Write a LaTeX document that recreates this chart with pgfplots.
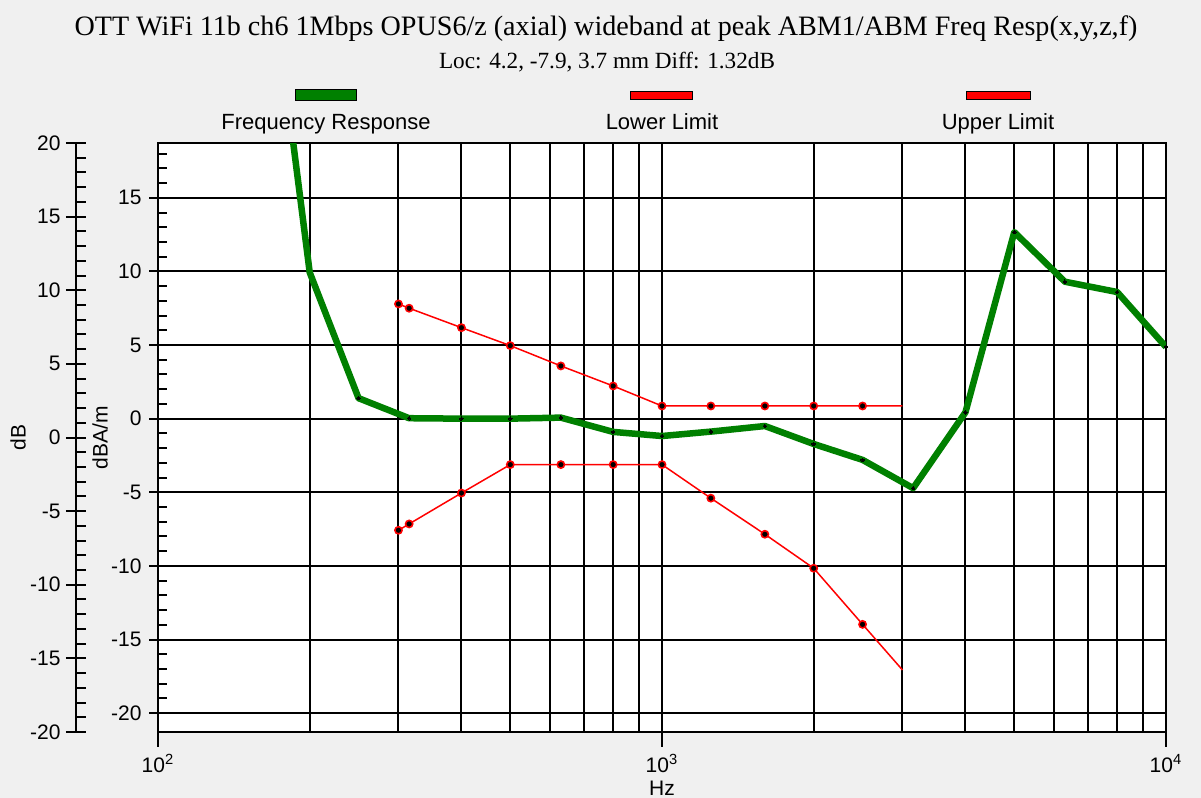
\documentclass[border=0pt]{standalone}
\usepackage{pgfplots}
\pgfplotsset{compat=1.18}
\usepackage{fontspec}
\setmainfont{Liberation Sans}
\newfontfamily\titlefont{Liberation Serif}
\definecolor{bg}{HTML}{F0F0F0}
\definecolor{fr}{RGB}{0,128,0}
\definecolor{lim}{RGB}{255,0,0}
\begin{document}
\begin{tikzpicture}
\useasboundingbox (-79pt,-33pt) rectangle (521.5pt,366pt);
\fill[bg] (-79pt,-33pt) rectangle (521.5pt,366pt);
% outer dB axis
\begin{axis}[
  at={(-41pt,0pt)}, anchor=south west,
  scale only axis, width=5pt, height=294.5pt,
  xmin=0, xmax=1, ymin=-20, ymax=20,
  hide x axis, axis y line*=left,
  axis line style={line width=1pt},
  ytick={-20,-15,...,20}, minor y tick num=4,
  tick align=center, major tick length=10pt, minor tick length=5pt,
  every tick/.style={black, line width=1pt},
  minor y tick style={xshift=2.5pt},
  /pgf/number format/assume math mode=true,
  tick label style={font=\fontsize{10.5}{12}\selectfont},
  yticklabel style={xshift=0.8pt},
  ylabel={dB},
  every axis y label/.style={at={(axis description cs:0,0.5)}, xshift=-29pt, rotate=90, anchor=center, font=\fontsize{10.5}{12}\selectfont},
]
\end{axis}
% main axis
\begin{axis}[
  at={(0pt,0pt)}, anchor=south west,
  scale only axis, width=504pt, height=294.5pt,
  xmode=log, xmin=100, xmax=10000, ymin=-21.28, ymax=18.72,
  axis background/.style={fill=white},
  axis line style={line width=1pt},
  tick pos=left, tick align=outside,
  major tick length=7.5pt, minor tick length=4.35pt,
  every tick/.style={black, line width=1pt},
  xtick={100,1000,10000},
  xticklabels={10\textsuperscript{2},10\textsuperscript{3},10\textsuperscript{4}},
  minor xtick={200,300,400,500,600,700,800,900,2000,3000,4000,5000,6000,7000,8000,9000},
  minor x tick style={draw=none},
  xmajorgrids, xminorgrids, ymajorgrids,
  major grid style={black, line width=1pt},
  minor grid style={black, line width=1pt},
  ytick={-20,-15,...,15},
  minor ytick={-19,-18,-17,-16,-14,-13,-12,-11,-9,-8,-7,-6,-4,-3,-2,-1,1,2,3,4,6,7,8,9,11,12,13,14,16,17,18},
  major y tick style={xshift=3.15pt},
  minor y tick style={xshift=4.35pt},
  /pgf/number format/assume math mode=true,
  tick label style={font=\fontsize{10.5}{12}\selectfont},
  yticklabel style={xshift=2.8pt},
  ylabel={dBA/m},
  every axis y label/.style={at={(axis description cs:0,0.5)}, xshift=-29pt, rotate=90, anchor=center, font=\fontsize{10.5}{12}\selectfont},
  xlabel={Hz},
  every axis x label/.style={at={(axis description cs:0.5,0)}, anchor=center, yshift=-28pt, font=\fontsize{10.5}{12}\selectfont},
  clip=true,
]
% Lower limit
\addplot[lim, line width=0.75pt, mark=*, mark size=1.8pt,
  mark options={fill=black, draw=lim, line width=0.8pt},
  mark indices={1,2,3,4,5,6,7,8,9,10,11}] coordinates {
  (300,-7.58) (315,-7.15) (400,-5.05) (500,-3.12) (630,-3.12) (800,-3.12)
  (1000,-3.12) (1250,-5.4) (1600,-7.85) (2000,-10.16) (2500,-13.97) (3000,-17.07)
};
% Upper limit
\addplot[lim, line width=0.75pt, mark=*, mark size=1.8pt,
  mark options={fill=black, draw=lim, line width=0.8pt},
  mark indices={1,2,3,4,5,6,7,8,9,10,11}] coordinates {
  (300,7.79) (315,7.5) (400,6.18) (500,4.96) (630,3.58) (800,2.22)
  (1000,0.86) (1250,0.86) (1600,0.86) (2000,0.86) (2500,0.86) (3000,0.86)
};
% Frequency response
\addplot[fr, line width=3.25pt, line join=round, mark=*, mark size=0.9pt,
  mark options={fill=black, draw=black, line width=0pt},
  mark indices={2,3,4,5,6,7,8,9,10,11,12,13,14,15,16,17,18,19}] coordinates {
  (160,36) (200,9.93) (250,1.39) (315,0.03) (400,0) (500,0) (630,0.07)
  (800,-0.9) (1000,-1.18) (1250,-0.88) (1600,-0.5) (2000,-1.72) (2500,-2.8)
  (3150,-4.72) (4000,0.43) (5000,12.67) (6300,9.3) (8000,8.6) (10000,4.87)
};
\end{axis}
% title
\node[anchor=base, font=\titlefont\fontsize{14.05}{16}\selectfont] at (224pt,348pt)
  {OTT WiFi 11b ch6 1Mbps OPUS6/z (axial) wideband at peak ABM1/ABM Freq Resp(x,y,z,f)};
\node[anchor=base, font=\titlefont\fontsize{11.6}{13}\selectfont] at (224.5pt,331.5pt)
  {Loc: 4.2, -7.9, 3.7 mm Diff: 1.32dB};
% legend
\filldraw[fill=fr, draw=black, line width=0.5pt] (68.5pt,315.5pt) rectangle (99pt,321pt);
\filldraw[fill=lim, draw=black, line width=0.5pt] (236pt,316pt) rectangle (267pt,320pt);
\filldraw[fill=lim, draw=black, line width=0.5pt] (404pt,316pt) rectangle (436pt,320pt);
\node[anchor=base, font=\fontsize{11}{13}\selectfont] at (84pt,301pt) {Frequency Response};
\node[anchor=base, font=\fontsize{11}{13}\selectfont] at (252pt,301pt) {Lower Limit};
\node[anchor=base, font=\fontsize{11}{13}\selectfont] at (420pt,301pt) {Upper Limit};
\end{tikzpicture}
\end{document}
